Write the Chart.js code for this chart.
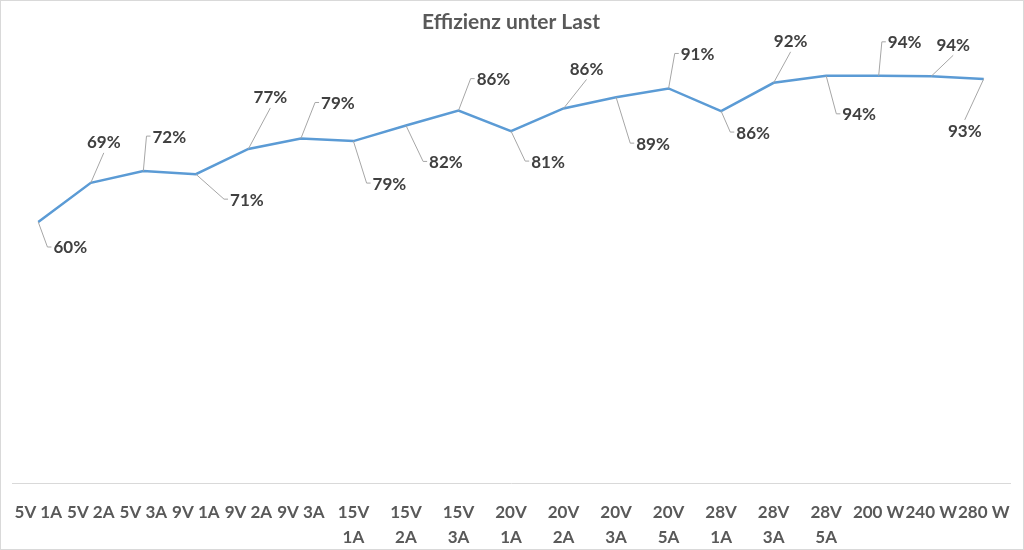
<!DOCTYPE html>
<html>
<head>
<meta charset="utf-8">
<script src="https://cdn.jsdelivr.net/npm/chart.js@4.4.1/dist/chart.umd.min.js"></script>
<style>
  html, body { margin: 0; padding: 0; background: #fff; }
  #wrap { width: 1024px; height: 550px; position: relative; }
</style>
</head>
<body>
<div id="wrap"><canvas id="effChart"></canvas></div>
<script>
// Data
const categories = [
    '5V 1A', '5V 2A', '5V 3A', '9V 1A', '9V 2A', '9V 3A',
    ['15V', '1A'], ['15V', '2A'], ['15V', '3A'],
    ['20V', '1A'], ['20V', '2A'], ['20V', '3A'], ['20V', '5A'],
    ['28V', '1A'], ['28V', '3A'], ['28V', '5A'],
    '200 W', '240 W', '280 W'
];
const efficiency = [60, 69, 71.7, 71, 76.8, 79.2, 78.6, 82.2, 85.6, 80.9, 86.1, 88.7, 90.7, 85.5, 92.0, 93.6, 93.6, 93.5, 92.9];
const chartTitle = 'Effizienz unter Last';

// label callout placement: [dx, dy, leader type] relative to each point
const calloutPlacement = [
    [32, 25, 'L'], [13, -41, 'B'], [26, -35, 'L'], [51, 25, 'L'], [22, -52, 'B'], [37, -36, 'L'],
    [36, 42, 'L'], [40, 36, 'L'], [35, -32, 'L'], [37, 30, 'L'], [23, -40, 'B'], [37, 46, 'L'],
    [29, -35, 'L'], [32, 21, 'L'], [17, -42, 'B'], [33, 38, 'L'], [26, -34, 'L'], [22, -32, 'B'],
    [-19, 52, 'T']
];

const calloutPlugin = {
    id: 'callouts',
    afterDatasetsDraw(chart) {
        const ctx = chart.ctx;
        const meta = chart.getDatasetMeta(0);
        ctx.save();
        ctx.font = 'bold 17px Lato';
        ctx.textAlign = 'center';
        ctx.textBaseline = 'middle';
        meta.data.forEach((pt, i) => {
            const [dx, dy, kind] = calloutPlacement[i];
            const text = Math.round(efficiency[i]) + '%';
            const cx = pt.x + dx, cy = pt.y + dy;
            const w = ctx.measureText(text).width;
            const left = cx - w / 2;
            ctx.strokeStyle = '#a6a6a6';
            ctx.lineWidth = 1;
            ctx.beginPath();
            ctx.moveTo(pt.x, pt.y);
            if (kind === 'L') {
                ctx.lineTo(left - 6, cy);
                ctx.lineTo(left - 2, cy);
            } else if (kind === 'B') {
                ctx.lineTo(cx, cy + 11);
            } else {
                ctx.lineTo(cx, cy - 11);
            }
            ctx.stroke();
            ctx.fillStyle = '#404040';
            ctx.fillText(text, cx, cy + 1);
        });
        ctx.restore();
    }
};

const framePlugin = {
    id: 'frame',
    afterDraw(chart) {
        const ctx = chart.ctx;
        ctx.save();
        ctx.strokeStyle = '#d9d9d9';
        ctx.lineWidth = 1;
        ctx.strokeRect(0.5, 0.5, chart.width - 1, chart.height - 1);
        ctx.restore();
    }
};

document.addEventListener('DOMContentLoaded', function() {
    const ctx = document.getElementById('effChart').getContext('2d');
    new Chart(ctx, {
        type: 'line',
        data: {
            labels: categories,
            datasets: [{
                label: 'Effizienz',
                data: efficiency,
                borderColor: '#5B9BD5',
                backgroundColor: '#5B9BD5',
                borderWidth: 2.5,
                pointRadius: 0,
                tension: 0,
                fill: false
            }]
        },
        options: {
            responsive: true,
            maintainAspectRatio: false,
            animation: false,
            layout: { padding: { left: 12, right: 14, top: 0, bottom: 0 } },
            plugins: {
                legend: { display: false },
                tooltip: { enabled: false },
                title: {
                    display: true,
                    text: chartTitle,
                    color: '#595959',
                    font: { family: 'Lato', size: 21, weight: 'bold', lineHeight: 1.2 },
                    padding: { top: 10, bottom: 12.8 }
                }
            },
            scales: {
                x: {
                    offset: true,
                    grid: { display: false },
                    border: { display: true, color: '#d9d9d9', width: 1 },
                    ticks: {
                        color: '#595959',
                        font: { family: 'Lato', size: 17, weight: 'bold', lineHeight: 1.47 },
                        maxRotation: 0,
                        autoSkip: false,
                        padding: 9
                    },
                    afterFit(scale) { scale.height = 67; }
                },
                y: {
                    display: false,
                    min: 0,
                    max: 100
                }
            }
        },
        plugins: [calloutPlugin, framePlugin]
    });
});
</script>
</body>
</html>
